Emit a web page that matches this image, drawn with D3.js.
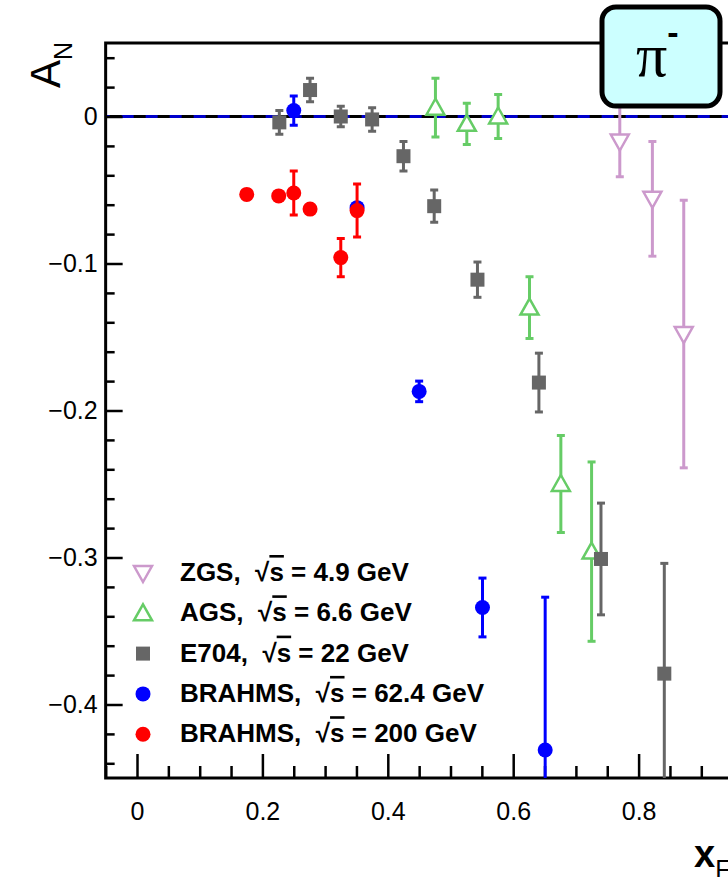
<!DOCTYPE html>
<html>
<head>
<meta charset="utf-8">
<script src="https://cdn.jsdelivr.net/npm/d3@7"></script>
<style>
  body { margin: 0; background: #fff; overflow: hidden; }
  svg { font-family: "Liberation Sans", Arial, Helvetica, sans-serif; }
</style>
</head>
<body>
<div id="chart"></div>
<script>
// data (xF, A_N, error)
var zgsX = [0.770, 0.822, 0.872]
var zgsY = [-0.017, -0.056, -0.148]
var zgsErr = [0.024, 0.039, 0.091]

var agsX = [0.476, 0.526, 0.576, 0.626, 0.676, 0.725]
var agsY = [0.006, -0.005, 0.000, -0.130, -0.250, -0.296]
var agsErr = [0.020, 0.014, 0.015, 0.021, 0.033, 0.061]

var e704X = [0.227, 0.276, 0.325, 0.375, 0.425, 0.474, 0.543, 0.641, 0.740, 0.841]
var e704Y = [-0.004, 0.018, 0.000, -0.002, -0.027, -0.061, -0.111, -0.181, -0.301, -0.379]
var e704Err = [0.008, 0.008, 0.007, 0.008, 0.010, 0.011, 0.012, 0.020, 0.038, 0.075]

var b62X = [0.250, 0.351, 0.450, 0.551, 0.651]
var b62Y = [0.004, -0.062, -0.187, -0.334, -0.431]
var b62Err = [0.010, 0.003, 0.007, 0.020, 0.104]

var b200X = [0.175, 0.226, 0.250, 0.276, 0.325, 0.351]
var b200Y = [-0.053, -0.054, -0.052, -0.063, -0.096, -0.064]
var b200Err = [0.003, 0.003, 0.015, 0.003, 0.013, 0.018]

var xTicks = [0, 0.2, 0.4, 0.6, 0.8]
var yTicks = [0, -0.1, -0.2, -0.3, -0.4]
var legendNames = ["ZGS,", "AGS,", "E704,", "BRAHMS,", "BRAHMS,"]
var legendEnergy = ["= 4.9 GeV", "= 6.6 GeV", "= 22 GeV", "= 62.4 GeV", "= 200 GeV"]

var width = 728
var height = 877

var svg = d3.select("#chart")
  .append("svg")
    .attr("width", width)
    .attr("height", height)

var x = d3.scaleLinear().domain([-0.05, 1.05]).range([105.65, 795.35])
var y = d3.scaleLinear().domain([-0.45, 0.05]).range([778, 43])

// clip for data
svg.append("clipPath").attr("id", "clip")
  .append("rect")
    .attr("x", x(-0.05)).attr("y", y(0.05))
    .attr("width", x(1.05) - x(-0.05)).attr("height", y(-0.45) - y(0.05))

// zero line: blue under black dashes
svg.append("line")
  .attr("x1", x(-0.05)).attr("x2", x(1.05))
  .attr("y1", y(0)).attr("y2", y(0))
  .attr("stroke", "#0000cc").attr("stroke-width", 3)
svg.append("line")
  .attr("x1", x(-0.05) + 4).attr("x2", x(1.05))
  .attr("y1", y(0)).attr("y2", y(0))
  .attr("stroke", "#000").attr("stroke-width", 3)
  .attr("stroke-dasharray", "12,12")

// axes with inward ticks
var xMinor = d3.range(-0.05, 1.051, 0.05).filter(function(v){ return Math.abs(Math.round(v*100) % 20) > 0.5 })
svg.append("g")
  .attr("transform", "translate(0," + y(-0.45) + ")")
  .call(d3.axisBottom(x).tickValues(xMinor).tickSize(-12).tickFormat(""))
svg.append("g")
  .attr("class", "xmajor")
  .attr("transform", "translate(0," + y(-0.45) + ")")
  .call(d3.axisBottom(x).tickValues(xTicks).tickSize(-24).tickPadding(30)
    .tickFormat(function(d){ return d === 0 ? "0" : d3.format(".1f")(d) }))

var yMinor = d3.range(-0.44, 0.041, 0.02).filter(function(v){ return Math.abs(Math.round(v*100) % 10) > 0.5 })
svg.append("g")
  .attr("transform", "translate(" + x(-0.05) + ",0)")
  .call(d3.axisLeft(y).tickValues(yMinor).tickSize(-9).tickFormat(""))
svg.append("g")
  .attr("class", "ymajor")
  .attr("transform", "translate(" + x(-0.05) + ",0)")
  .call(d3.axisLeft(y).tickValues(yTicks).tickSize(-17).tickPadding(8)
    .tickFormat(function(d){ return d === 0 ? "0" : d3.format(".1f")(d) }))

svg.selectAll(".domain").remove()
svg.selectAll(".tick line").attr("stroke", "#000").attr("stroke-width", 2.5)
svg.selectAll(".tick text").attr("fill", "#000").style("font-size", "25px")
svg.selectAll(".xmajor .tick text").attr("y", 24).attr("dy", "0.71em")

// frame
svg.append("rect")
  .attr("x", x(-0.05)).attr("y", y(0.05))
  .attr("width", x(1.05) - x(-0.05)).attr("height", y(-0.45) - y(0.05))
  .attr("fill", "none").attr("stroke", "#000").attr("stroke-width", 3)

var plot = svg.append("g").attr("clip-path", "url(#clip)")

function zip(xs, ys, es) {
  return xs.map(function(v, i){ return {x: v, y: ys[i], e: es[i]} })
}

function errorBars(data, color, w) {
  var g = plot.append("g").attr("stroke", color).attr("stroke-width", w)
  g.selectAll(".v").data(data).enter().append("line")
    .attr("x1", function(d){ return x(d.x) }).attr("x2", function(d){ return x(d.x) })
    .attr("y1", function(d){ return y(d.y + d.e) }).attr("y2", function(d){ return y(d.y - d.e) })
  g.selectAll(".t").data(data).enter().append("line")
    .attr("x1", function(d){ return x(d.x) - 4 }).attr("x2", function(d){ return x(d.x) + 4 })
    .attr("y1", function(d){ return y(d.y + d.e) }).attr("y2", function(d){ return y(d.y + d.e) })
  g.selectAll(".b").data(data).enter().append("line")
    .attr("x1", function(d){ return x(d.x) - 4 }).attr("x2", function(d){ return x(d.x) + 4 })
    .attr("y1", function(d){ return y(d.y - d.e) }).attr("y2", function(d){ return y(d.y - d.e) })
}

var triUp = "M0,-9L9,7L-9,7Z"
var triDown = "M0,9L9,-7L-9,-7Z"

var zgsColor = "#cc99cc", agsColor = "#66cc66", e704Color = "#666666", b62Color = "#0000ff", b200Color = "#ff0000"

// ZGS
var zgs = zip(zgsX, zgsY, zgsErr)
errorBars(zgs, zgsColor, 3)
plot.selectAll(".zgs").data(zgs).enter().append("path")
  .attr("d", triDown)
  .attr("transform", function(d){ return "translate(" + x(d.x) + "," + y(d.y) + ")" })
  .attr("fill", "#fff").attr("stroke", zgsColor).attr("stroke-width", 2.5)

// AGS
var ags = zip(agsX, agsY, agsErr)
errorBars(ags, agsColor, 3)
plot.selectAll(".ags").data(ags).enter().append("path")
  .attr("d", triUp)
  .attr("transform", function(d){ return "translate(" + x(d.x) + "," + y(d.y) + ")" })
  .attr("fill", "#fff").attr("stroke", agsColor).attr("stroke-width", 2.5)

// E704
var e704 = zip(e704X, e704Y, e704Err)
errorBars(e704, e704Color, 3)
plot.selectAll(".e704").data(e704).enter().append("rect")
  .attr("x", function(d){ return x(d.x) - 7 }).attr("y", function(d){ return y(d.y) - 7 })
  .attr("width", 14).attr("height", 14)
  .attr("fill", e704Color)

// BRAHMS 62.4
var b62 = zip(b62X, b62Y, b62Err)
errorBars(b62, b62Color, 3)
plot.selectAll(".b62").data(b62).enter().append("circle")
  .attr("cx", function(d){ return x(d.x) }).attr("cy", function(d){ return y(d.y) })
  .attr("r", 7.5).attr("fill", b62Color)

// BRAHMS 200
var b200 = zip(b200X, b200Y, b200Err)
errorBars(b200, b200Color, 3)
plot.selectAll(".b200").data(b200).enter().append("circle")
  .attr("cx", function(d){ return x(d.x) }).attr("cy", function(d){ return y(d.y) })
  .attr("r", 7.5).attr("fill", b200Color)

// legend
var legend = svg.append("g")
var rows = legend.selectAll("g").data(legendNames).enter().append("g")
  .attr("transform", function(d, i){ return "translate(0," + (i * 40.3) + ")" })

rows.each(function(d, i) {
  var r = d3.select(this)
  if (i == 0) r.append("path").attr("d", triDown).attr("transform", "translate(143,573)")
      .attr("fill", "#fff").attr("stroke", zgsColor).attr("stroke-width", 2.5)
  if (i == 1) r.append("path").attr("d", triUp).attr("transform", "translate(143,573)")
      .attr("fill", "#fff").attr("stroke", agsColor).attr("stroke-width", 2.5)
  if (i == 2) r.append("rect").attr("x", 136).attr("y", 566).attr("width", 14).attr("height", 14)
      .attr("fill", e704Color)
  if (i == 3) r.append("circle").attr("cx", 143).attr("cy", 573).attr("r", 7.5).attr("fill", b62Color)
  if (i == 4) r.append("circle").attr("cx", 143).attr("cy", 573).attr("r", 7.5).attr("fill", b200Color)

  var t = r.append("text")
    .attr("x", 180).attr("y", 581)
    .style("font-size", "26px").style("font-weight", "bold")
  t.append("tspan").text(d + "\u00a0\u00a0\u221a")
  t.append("tspan").text("s").style("text-decoration", "overline")
  t.append("tspan").text(" " + legendEnergy[i])
})

// axis titles
var yt = svg.append("text")
  .attr("transform", "translate(60,88) rotate(-90)")
yt.append("tspan").text("A").style("font-size", "42px")
yt.append("tspan").text("N").style("font-size", "25px").attr("dy", 12)

var xt = svg.append("text").attr("x", 694).attr("y", 867)
xt.append("tspan").text("x").style("font-size", "38px").style("font-weight", "bold")
xt.append("tspan").text("F").style("font-size", "25px").attr("dy", 11)

// particle label box
svg.append("rect")
  .attr("x", 602).attr("y", 7).attr("width", 118).attr("height", 99)
  .attr("rx", 14)
  .attr("fill", "#ccffff").attr("stroke", "#000").attr("stroke-width", 5)
var pt = svg.append("text").attr("x", 636).attr("y", 76)
  .style("font-family", "'Liberation Serif', 'DejaVu Serif', serif")
pt.append("tspan").text("\u03c0").style("font-size", "62px")
pt.append("tspan").text("-").style("font-size", "34px").style("font-weight", "bold")
  .style("font-family", "'Liberation Sans', Arial, sans-serif").attr("dy", -32)
</script>
</body>
</html>
